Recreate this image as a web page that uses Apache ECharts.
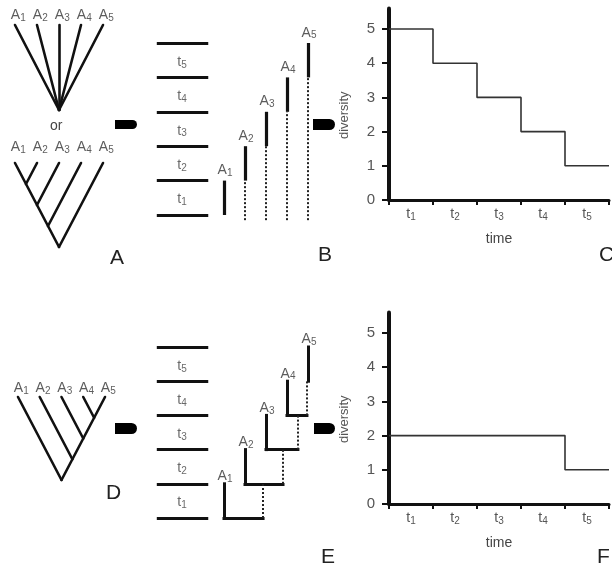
<!DOCTYPE html>
<html><head><meta charset="utf-8">
<script src="https://cdn.jsdelivr.net/npm/echarts@6/dist/echarts.min.js"></script>
<style>html,body{margin:0;padding:0;background:#fff}#c{width:612px;height:569px}</style>
</head><body><div id="c"></div><script>
// ---- data ----
const tipSubs = ['1','2','3','4','5'];
const tipX = [1,2,3,4,5];
const tipY = [1,1,1,1,1];
const starJoinX = [3,3,3,3,3];
const starJoinY = [0,0,0,0,0];
const pectJoinX = [3,1.5,2,2.5,3];
const pectJoinY = [0,0.75,0.5,0.25,0];
const dJoinX = [3,3.5,4,4.5,3];
const dJoinY = [0,0.25,0.5,0.75,0];
const intervalSubs = ['1','2','3','4','5'];
const boundaries = [0,1,2,3,4,5];
const lineageX = [1,2,3,4,5];
const firstTime = [0,1,2,3,4];
const lastTime = [1,2,3,4,5];
const ghostX = [2.86,3.81,4.52,4.95];
const diversityC = [5,4,3,2,1];
const diversityF = [2,2,2,2,1];
const yTicks = [0,1,2,3,4,5];
const xLabelPos = [0.5,1.5,2.5,3.5,4.5];

// ---- helpers ----
const INK = '#111';
const TXT = '#333';
const FF = 'Liberation Sans';
const richSub = {
  a:{fontSize:14,color:TXT,fontFamily:FF,lineHeight:16},
  s:{fontSize:10,color:TXT,fontFamily:FF,lineHeight:10,verticalAlign:'bottom',padding:[8,0,0,0]}
};
const richT = {
  a:{fontSize:14,color:'#444',fontFamily:FF,lineHeight:16},
  s:{fontSize:10,color:'#444',fontFamily:FF,lineHeight:10,verticalAlign:'bottom',padding:[7,0,0,0]}
};
function treeSeries(grid, jx, jy, labelDy){
  const segs = tipX.map((x,i)=>({coords:[[x,tipY[i]],[jx[i],jy[i]]]}));
  return [
    {type:'lines',coordinateSystem:'cartesian2d',xAxisIndex:grid,yAxisIndex:grid,
     data:segs,lineStyle:{color:INK,width:2.6,opacity:1,cap:'round'},silent:true,clip:false},
    {type:'scatter',xAxisIndex:grid,yAxisIndex:grid,symbolSize:0,clip:false,silent:true,
     data:tipX.map((x,i)=>[x+0.15,tipY[i]+labelDy]),
     label:{show:true,position:'inside',formatter:p=>'{a|A}{s|'+tipSubs[p.dataIndex]+'}',rich:richSub}}
  ];
}
function timeScaleSeries(grid){
  const segs = boundaries.map(b=>({coords:[[-2.2,b],[0.25,b]]}));
  return [
    {type:'lines',coordinateSystem:'cartesian2d',xAxisIndex:grid,yAxisIndex:grid,
     data:segs,lineStyle:{color:INK,width:3,opacity:1},silent:true,clip:false},
    {type:'scatter',xAxisIndex:grid,yAxisIndex:grid,symbolSize:0,clip:false,silent:true,
     data:intervalSubs.map((s,i)=>[-1,boundaries[i]+0.45]),
     label:{show:true,position:'inside',formatter:p=>'{a|t}{s|'+intervalSubs[p.dataIndex]+'}',rich:richT}}
  ];
}
function lineageLabels(grid, dy){
  return {type:'scatter',xAxisIndex:grid,yAxisIndex:grid,symbolSize:0,clip:false,silent:true,
    data:lineageX.map((x,i)=>[x+0.05,lastTime[i]+dy]),
    label:{show:true,position:'inside',formatter:p=>'{a|A}{s|'+tipSubs[p.dataIndex]+'}',rich:richSub}};
}
function panelB(grid){
  const solid = lineageX.map((x,i)=>({coords:[[x,firstTime[i]],[x,lastTime[i]]]}));
  const dotted = lineageX.map((x,i)=>({coords:[[x,-0.15],[x,firstTime[i]]]})).filter((d,i)=>firstTime[i]>0);
  return [
    {type:'lines',coordinateSystem:'cartesian2d',xAxisIndex:grid,yAxisIndex:grid,data:solid,
     lineStyle:{color:INK,width:3.2,opacity:1},silent:true,clip:false},
    {type:'lines',coordinateSystem:'cartesian2d',xAxisIndex:grid,yAxisIndex:grid,data:dotted,
     lineStyle:{color:'#222',width:2,opacity:1,type:[2,2]},silent:true,clip:false},
    lineageLabels(grid,0.3)
  ];
}
function panelE(grid){
  const solid = lineageX.map((x,i)=>({coords:[[x,firstTime[i]],[x,lastTime[i]]]}));
  const horiz = ghostX.map((g,i)=>({coords:[[lineageX[i],firstTime[i]],[g,firstTime[i]]]}));
  const dotted = ghostX.map((g,i)=>({coords:[[g,firstTime[i]],[g,lastTime[i]]]}));
  return [
    {type:'lines',coordinateSystem:'cartesian2d',xAxisIndex:grid,yAxisIndex:grid,data:solid.concat(horiz),
     lineStyle:{color:INK,width:3,opacity:1,cap:'square'},silent:true,clip:false},
    {type:'lines',coordinateSystem:'cartesian2d',xAxisIndex:grid,yAxisIndex:grid,data:dotted,
     lineStyle:{color:'#222',width:2,opacity:1,type:[2,2]},silent:true,clip:false},
    lineageLabels(grid,0.22)
  ];
}
function stepData(d){
  const out=[];
  d.forEach((v,i)=>{out.push([boundaries[i],v]);out.push([boundaries[i+1],v]);});
  return out;
}
function hiddenX(min,max,grid){return {type:'value',gridIndex:grid,min,max,show:false};}
function hiddenY(min,max,grid){return {type:'value',gridIndex:grid,min,max,show:false};}
function chartX(grid){
  return {type:'value',gridIndex:grid,min:0,max:5,interval:1,
    axisLine:{show:true,lineStyle:{color:INK,width:3}},
    axisTick:{show:true,customValues:boundaries,length:5,lineStyle:{color:INK,width:2}},
    splitLine:{show:false},
    axisLabel:{show:true,customValues:xLabelPos,margin:6,
      formatter:v=>'{a|t}{s|'+intervalSubs[Math.floor(v)]+'}',
      rich:{a:{fontSize:14,color:'#555',fontFamily:FF,lineHeight:16},s:{fontSize:10,color:'#555',fontFamily:FF,lineHeight:10,verticalAlign:'bottom',padding:[7,0,0,0]}}},
    name:'time',nameLocation:'middle',nameGap:32,
    nameTextStyle:{fontSize:14,color:'#444',fontFamily:FF}};
}
function chartY(grid){
  return {type:'value',gridIndex:grid,min:0,max:5.6,interval:1,
    axisLine:{show:true,lineStyle:{color:INK,width:4}},
    axisTick:{show:true,customValues:yTicks,length:7,lineStyle:{color:INK,width:2}},
    splitLine:{show:false},
    axisLabel:{show:true,customValues:yTicks,margin:14,fontSize:15,color:'#555',fontFamily:FF},
    name:'diversity',nameLocation:'middle',nameGap:38,nameRotate:90,
    nameTextStyle:{fontSize:13,color:'#555',fontFamily:FF,padding:[0,22,0,0]}};
}
function stepSeries(grid,d){
  return {type:'line',xAxisIndex:grid,yAxisIndex:grid,data:stepData(d),symbol:'none',clip:false,silent:true,
    lineStyle:{color:'#333',width:1.6},z:1};
}

const grids = [
  {left:15,top:25,width:88,height:85},
  {left:15,top:163,width:88,height:84},
  {left:18,top:397,width:87,height:83},
  {left:140,top:8.6,width:189,height:240.8},
  {left:140,top:312.8,width:189,height:239.4},
  {left:389,top:8.5,width:220,height:191.5},
  {left:389,top:312.5,width:220,height:191.5}
];

function letter(t,x,y){
  return {type:'text',left:x,top:y,style:{text:t,fontSize:21,fill:'#222',fontFamily:FF}};
}
function arrow(x,y,w,h){
  return {type:'rect',shape:{x:x,y:y,width:w,height:h,r:[0,h/2,h/2,0]},style:{fill:'#000'}};
}

const option = {
  animation:false,
  backgroundColor:'#fff',
  grid:grids,
  xAxis:[hiddenX(1,5,0),hiddenX(1,5,1),hiddenX(1,5,2),hiddenX(-3,6,3),hiddenX(-3,6,4),chartX(5),chartX(6)],
  yAxis:[hiddenY(0,1,0),hiddenY(0,1,1),hiddenY(0,1,2),hiddenY(-1,6,3),hiddenY(-1,6,4),chartY(5),chartY(6)],
  series:[
    ...treeSeries(0,starJoinX,starJoinY,0.12),
    ...treeSeries(1,pectJoinX,pectJoinY,0.19),
    ...treeSeries(2,dJoinX,dJoinY,0.11),
    ...timeScaleSeries(3),
    ...panelB(3),
    ...timeScaleSeries(4),
    ...panelE(4),
    stepSeries(5,diversityC),
    stepSeries(6,diversityF)
  ],
  graphic:[
    {type:'text',left:50,top:119,style:{text:'or',fontSize:14,fill:'#444',fontFamily:FF}},
    arrow(115,120,22,9),
    arrow(313,119,22,11),
    arrow(115,423,22,11),
    arrow(314,423,21,11),
    letter('A',110,248),
    letter('B',318,245),
    letter('C',599,245),
    letter('D',106,483),
    letter('E',321,547),
    letter('F',597,547)
  ]
};
const chart = echarts.init(document.getElementById('c'),null,{renderer:'canvas'});
chart.setOption(option);
</script></body></html>
